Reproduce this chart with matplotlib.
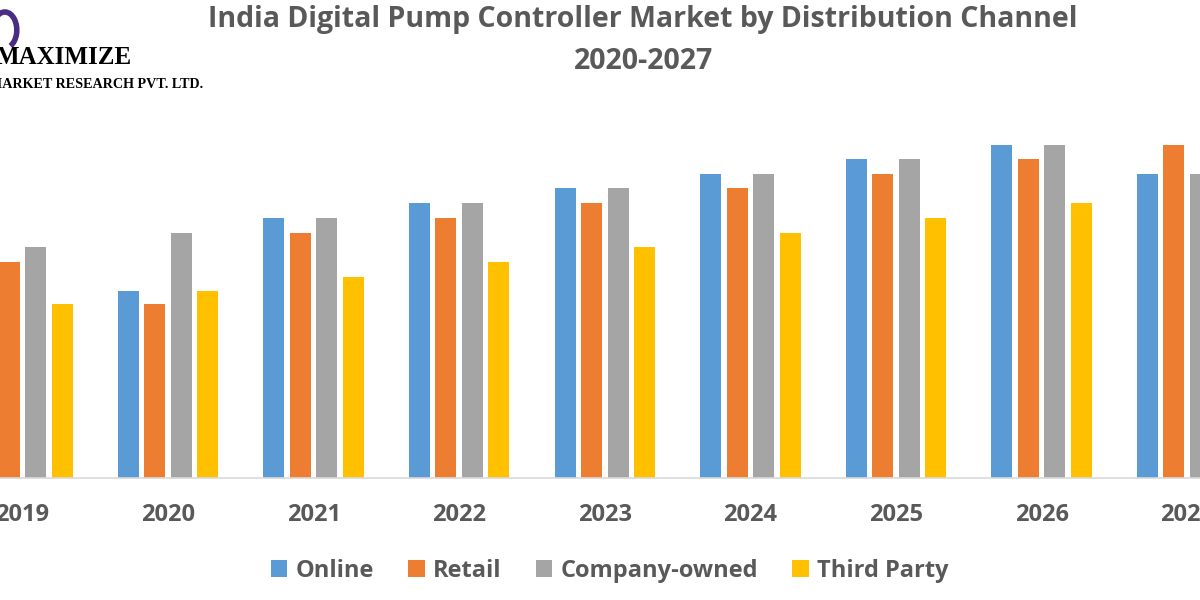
import numpy as np
import matplotlib
matplotlib.use("Agg")
import matplotlib.pyplot as plt
from matplotlib.patches import Arc

# Data (arbitrary units, no value axis shown)
years = ["2019", "2020", "2021", "2022", "2023", "2024", "2025", "2026", "2027"]
online = [231, 187, 260, 275, 290, 304, 319, 333, 304]
retail = [216, 174, 245, 260, 275, 290, 304, 319, 333]
company_owned = [231, 245, 260, 275, 290, 304, 319, 333, 304]
third_party = [174, 187, 201, 216, 231, 245, 260, 275, 260]

series_names = ["Online", "Retail", "Company-owned", "Third Party"]
colors = ["#5b9bd5", "#ed7d31", "#a5a5a5", "#ffc000"]
text_color = "#595959"

fig = plt.figure(figsize=(12, 6), dpi=100)
ax = fig.add_axes([0, 122 / 600, 1, 348 / 600])

x = np.arange(len(years))
step = 0.182
width = 0.144
all_series = [online, retail, company_owned, third_party]
handles = []
for i, (vals, col) in enumerate(zip(all_series, colors)):
    b = ax.bar(x + (i - 1.5) * step, vals, width=width, color=col, label=series_names[i])
    handles.append(b)

ax.set_xlim(-0.154, 8.088)
ax.set_ylim(0, 348)
ax.set_yticks([])
ax.set_xticks(x)
ax.set_xticklabels(years, fontsize=17, color=text_color, fontweight="bold",
                   family="Open Sans")
ax.tick_params(axis="x", length=0, pad=18)
for s in ["top", "right", "left"]:
    ax.spines[s].set_visible(False)
ax.spines["bottom"].set_color("#d9d9d9")
ax.spines["bottom"].set_linewidth(1.2)

# title
fig.text(0.536, 0.968, "India Digital Pump Controller Market by Distribution Channel",
         ha="center", va="center", fontsize=20.5, fontweight="bold",
         color=text_color, family="Open Sans")
fig.text(0.536, 0.898, "2020-2027", ha="center", va="center", fontsize=20.5,
         fontweight="bold", color=text_color, family="Open Sans")

# legend
leg = fig.legend(handles=handles, loc="center", bbox_to_anchor=(0.508, 1 - 571 / 600),
                 ncol=4, frameon=False, handlelength=0.7, handleheight=0.7,
                 handletextpad=0.35, columnspacing=1.45,
                 prop={"family": "Open Sans", "weight": "bold", "size": 17})
for t in leg.get_texts():
    t.set_color(text_color)

# logo (cut off at the left edge)
fig.text(-0.004, 1 - 58 / 600, "MAXIMIZE", ha="left", va="center", fontsize=18,
         fontweight="bold", family="Liberation Serif", color="black")
fig.text(-0.009, 1 - 84 / 600, "MARKET RESEARCH PVT. LTD.", ha="left", va="center",
         fontsize=10.2, fontweight="bold", family="Liberation Serif", color="black")
swirl = Arc((0.004, 1 - 30 / 600), 0.02, 0.06, theta1=-80, theta2=110,
            transform=fig.transFigure, color="#4b2c83", lw=4)
fig.add_artist(swirl)

fig.savefig("out.png", dpi=100)
